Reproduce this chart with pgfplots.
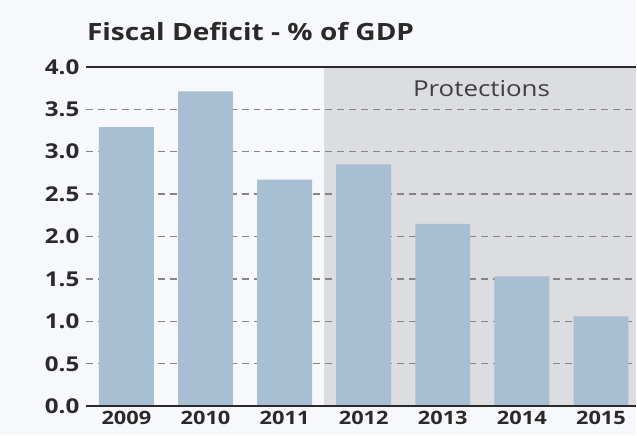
\documentclass[border=0pt]{standalone}
\usepackage{pgfplots}
\pgfplotsset{compat=1.18}
\usetikzlibrary{calc}
\usepackage{fontspec}
\setmainfont{Open Sans}[FakeStretch=1.18]
\definecolor{bgc}{HTML}{F6F8FB}
\definecolor{shadec}{HTML}{DCDDE1}
\definecolor{barc}{HTML}{A7BED3}
\definecolor{txt}{HTML}{2A2A2A}
\definecolor{gridc}{HTML}{85858A}
\begin{document}
\begin{tikzpicture}
\fill[bgc] (-86bp,-29bp) rectangle (551bp,407bp);
\begin{axis}[
  at={(0,0)}, anchor=south west,
  scale only axis, width=551bp, height=340bp,
  xmin=-0.513, xmax=6.44, ymin=0, ymax=4,
  axis line style={draw=none},
  axis background/.style={path picture={
    \fill[shadec] ($(path picture bounding box.south west)!0.4333!(path picture bounding box.south east)$) rectangle (path picture bounding box.north east);}},
  major tick length=0pt,
  xtick={0,...,6},
  xticklabels={2009,2010,2011,2012,2013,2014,2015},
  ytick={0,0.5,...,4},
  /pgf/number format/fixed,
  /pgf/number format/fixed zerofill,
  /pgf/number format/precision=1,
  /pgf/number format/assume math mode=true,
  y tick label style={font=\fontsize{20.5bp}{20.5bp}\selectfont\bfseries, text=txt, xshift=-3bp},
  x tick label style={font=\fontsize{18.5bp}{18.5bp}\selectfont\bfseries, text=txt, yshift=-1bp},
  ymajorgrids,
  grid style={gridc, line width=1.3bp, dash pattern=on 7bp off 5bp},
  clip=false,
]
\addplot[ybar, bar width=55bp, fill=barc, draw=none] coordinates {
(0,3.29) (1,3.71) (2,2.67) (3,2.85) (4,2.15) (5,1.53) (6,1.06)};
\draw[txt, line width=2.5bp] (rel axis cs:0,1) -- (rel axis cs:1,1);
\draw[txt, line width=2.2bp] (rel axis cs:0,0) -- (rel axis cs:1,0);
\node[font=\fontsize{22bp}{22bp}\selectfont, text=txt!90] at (axis cs:4.49,3.75) {Protections};
\end{axis}
\node[anchor=west, font=\fontsize{23.8bp}{23.8bp}\selectfont\bfseries, text=txt, inner sep=0pt] at (1bp,375bp) {Fiscal Deficit - \% of GDP};
\end{tikzpicture}
\end{document}
